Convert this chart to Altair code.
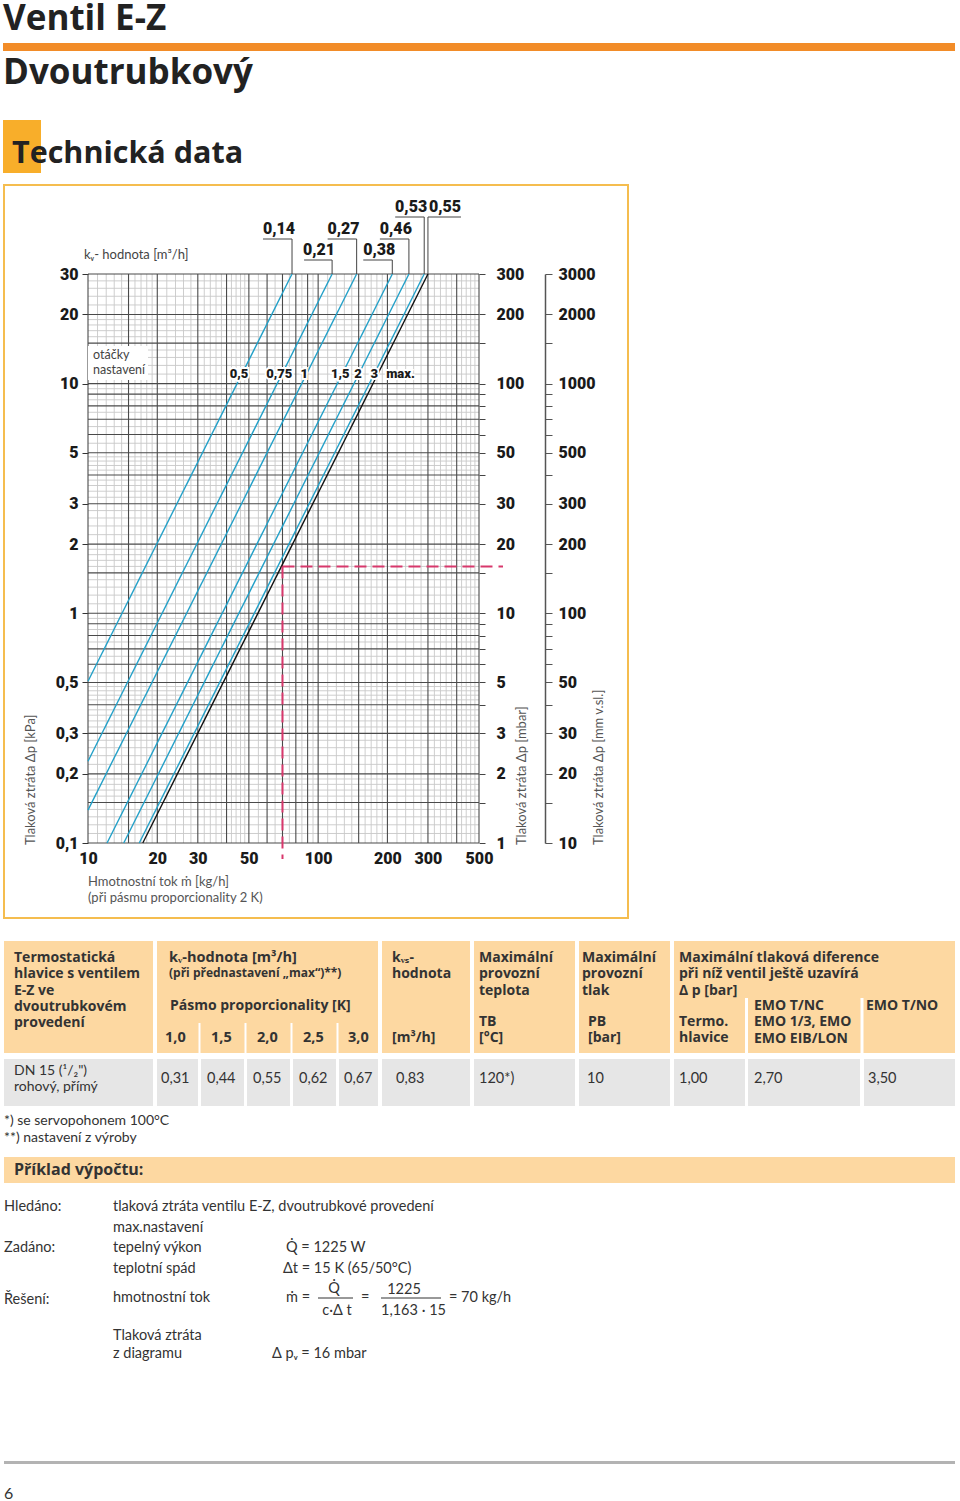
import altair as alt
import pandas as pd

# ---------------- data ----------------
kv_values = ["0,14", "0,21", "0,27", "0,38", "0,46", "0,53", "0,55"]
setting_names = ["0,5", "0,75", "1", "1,5", "2", "3", "max."]
flow_top = [77, 115, 147, 210, 248, 289, 300]        # kg/h where each line meets 30 kPa
flow_low = [10, 10, 10, 12.1, 14.3, 16.7, 17.3]      # kg/h at the lower end of each line
dp_low = [0.506, 0.227, 0.139, 0.1, 0.1, 0.1, 0.1]   # kPa at the lower end of each line
setting_flow = [45.3, 67.8, 87.1, 124.9, 148.9, 175.2, 228.0]

example_flow = [70]
example_dp = [1.6]

x_label_values = [10, 20, 30, 50, 100, 200, 300, 500]
y_label_values = [0.1, 0.2, 0.3, 0.5, 1, 2, 3, 5, 10, 20, 30]
major_mult = [1, 1.5, 2, 3, 4, 5, 6, 7, 8, 9]
minor_steps = [(1, 2, 0.1), (2, 5, 0.2), (5, 10, 0.5)]

hdr_col1 = ["Termostatická", "hlavice s ventilem", "E-Z ve", "dvoutrubkovém", "provedení"]
hdr_kv = "kᵥ-hodnota [m³/h]"
hdr_kv_sub = "(při přednastavení „max“)**)"
hdr_band = "Pásmo proporcionality [K]"
bands = ["1,0", "1,5", "2,0", "2,5", "3,0"]
hdr_kvs = ["kᵥₛ-", "hodnota"]
hdr_kvs_unit = "[m³/h]"
hdr_tb = ["Maximální", "provozní", "teplota"]
hdr_tb_unit = ["TB", "[°C]"]
hdr_pb = ["Maximální", "provozní", "tlak"]
hdr_pb_unit = ["PB", "[bar]"]
hdr_dp = ["Maximální tlaková diference", "při níž ventil ještě uzavírá", "Δ p [bar]"]
hdr_dp_sub1 = ["Termo.", "hlavice"]
hdr_dp_sub2 = ["EMO T/NC", "EMO 1/3, EMO", "EMO EIB/LON"]
hdr_dp_sub3 = ["EMO T/NO"]
row_name = ["DN 15 (¹/₂\")", "rohový, přímý"]
kv_by_band = ["0,31", "0,44", "0,55", "0,62", "0,67"]
kvs_value = "0,83"
tb_value = "120*)"
pb_value = "10"
dp_values = ["1,00", "2,70", "3,50"]

# ---------------- layout / style ----------------
W, H = 391, 569
X0, Y0 = 88, 274
BODY = "Lato"
BOLD = "Open Sans"
HEAVY = "Roboto"
TEAL = "#23a0c8"
RED = "#d8386c"
PEACH = "#fdd8a1"
GREY = "#e6e6e6"
TXT = "#333333"

xs = alt.Scale(type="log", domain=[10, 500], nice=False)
ys = alt.Scale(type="log", domain=[0.1, 30], nice=False)
one = pd.DataFrame({"a": [0]})
layers = []


def px(x):
    return x - X0


def py(y):
    return y - Y0


def rect(x1, y1, x2, y2, fill, stroke=None, sw=0, fo=1):
    kw = dict(fill=fill, fillOpacity=fo)
    if stroke:
        kw.update(stroke=stroke, strokeWidth=sw)
    layers.append(alt.Chart(one).mark_rect(**kw).encode(
        x=alt.value(px(x1)), x2=alt.value(px(x2)), y=alt.value(py(y1)), y2=alt.value(py(y2))))


def rule(x1, y1, x2, y2, color, w=1.0, dash=None):
    kw = dict(color=color, strokeWidth=w)
    if dash:
        kw["strokeDash"] = dash
    layers.append(alt.Chart(one).mark_rule(**kw).encode(
        x=alt.value(px(x1)), x2=alt.value(px(x2)), y=alt.value(py(y1)), y2=alt.value(py(y2))))


def text(x, y, s, size=14, weight="normal", color=TXT, align="left", font=None,
         angle=None, baseline="middle", lh=16.3):
    if font is None:
        font = BOLD if weight == "bold" else BODY
    lines = s if isinstance(s, list) else [s]
    for i, ln in enumerate(lines):
        kw = dict(text=ln, align=align, baseline=baseline, fontSize=size,
                  fontWeight=weight, color=color, font=font)
        if angle is not None:
            kw["angle"] = angle
        layers.append(alt.Chart(one).mark_text(**kw).encode(
            x=alt.value(px(x)), y=alt.value(py(y + i * lh))))


# ---------------- page header ----------------
text(3, 30, "Ventil E-Z", size=35, weight="bold", color="#222", baseline="alphabetic")
rect(3, 43, 955, 51, "#f28c28")
text(3, 84, "Dvoutrubkový", size=35, weight="bold", color="#222", baseline="alphabetic")
rect(3, 120, 41, 173, "#f8ae2a")
text(12, 163, "Technická data", size=30.5, weight="bold", color="#222", baseline="alphabetic")

# chart frame
rect(4, 185, 628, 918, "white", stroke="#f5bd4f", sw=2, fo=0)

# ---------------- grid ----------------
def major_vals(lo, hi):
    out = set()
    for e in range(-2, 4):
        for m in major_mult:
            v = round(m * 10 ** e, 6)
            if lo <= v <= hi:
                out.add(v)
    return sorted(out)


def minor_vals(lo, hi):
    maj = set(major_vals(lo, hi))
    out = set()
    for e in range(-2, 4):
        for a, b, s in minor_steps:
            n = int(round((b - a) / s))
            for j in range(1, n):
                v = round((a + j * s) * 10 ** e, 6)
                if lo < v < hi and v not in maj:
                    out.add(v)
    return sorted(out)


xmaj = pd.DataFrame({"v": major_vals(10, 500)})
xmin = pd.DataFrame({"v": minor_vals(10, 500)})
ymaj = pd.DataFrame({"v": major_vals(0.1, 30)})
ymin = pd.DataFrame({"v": minor_vals(0.1, 30)})

mbar_expr = ("indexof([0.1,0.2,0.3,0.5,1,2,3,5,10,20,30], datum.value) >= 0 ? "
             "format(datum.value*10, 'd') : ''")
mm_expr = ("indexof([0.1,0.2,0.3,0.5,1,2,3,5,10,20,30], datum.value) >= 0 ? "
           "format(datum.value*100, 'd') : ''")
lab_style = dict(labelFont=HEAVY, labelFontSize=16, labelFontWeight=900, labelColor="#1a1a1a",
                 labelOverlap=False, labelFlush=False, title=None, grid=False)

mbar_axis = alt.Axis(orient="right", values=major_vals(0.1, 30), labelExpr=mbar_expr, tickSize=6,
                     tickColor="#444", tickWidth=1, domain=False, labelPadding=11,
                     labelAlign="left", labelBaseline="middle", **lab_style)
mm_axis = alt.Axis(orient="right", offset=66, values=major_vals(0.1, 30), labelExpr=mm_expr,
                   tickSize=7, tickColor="#555", tickWidth=1, domain=True, domainColor="#555",
                   domainWidth=1.5, labelPadding=6, labelAlign="left", labelBaseline="middle",
                   **lab_style)

layers.append(alt.Chart(xmin).mark_rule(color="#c8c8c8", strokeWidth=0.9).encode(
    x=alt.X("v:Q", scale=xs, axis=None), y=alt.value(0), y2=alt.value(H)))
layers.append(alt.Chart(ymin).mark_rule(color="#c8c8c8", strokeWidth=0.9).encode(
    y=alt.Y("v:Q", scale=ys, axis=mm_axis), x=alt.value(0), x2=alt.value(W)))
layers.append(alt.Chart(xmaj).mark_rule(color="#4a4a4a", strokeWidth=1.1).encode(
    x=alt.X("v:Q", scale=xs, axis=None), y=alt.value(0), y2=alt.value(H)))
layers.append(alt.Chart(ymaj).mark_rule(color="#4a4a4a", strokeWidth=1.1).encode(
    y=alt.Y("v:Q", scale=ys, axis=mbar_axis), x=alt.value(0), x2=alt.value(W)))

# "otáčky nastavení" box
rect(88, 346, 148, 380, "white")
text(93, 355, ["otáčky", "nastavení"], size=12.5, color="#444", lh=15)
text(84, 255, "kᵥ- hodnota [m³/h]", size=13, color="#444")

# ---------------- curves ----------------
rows = []
for i, k in enumerate(kv_values):
    rows.append(dict(kv=k, flow=flow_low[i], dp=dp_low[i], o=0))
    rows.append(dict(kv=k, flow=flow_top[i], dp=30, o=1))

left_axis = alt.Axis(orient="left", values=y_label_values,
                     labelExpr="replace(format(datum.value, '~g'), '.', ',')",
                     tickSize=6, tickColor="#333", tickWidth=1, domain=False, labelPadding=4,
                     **lab_style)
x_axis = alt.Axis(orient="bottom", values=x_label_values, format="d", ticks=False, domain=False,
                  labelPadding=7, **lab_style)

layers.append(alt.Chart(pd.DataFrame(rows)).mark_line(strokeWidth=1.4).encode(
    x=alt.X("flow:Q", scale=xs, axis=x_axis),
    y=alt.Y("dp:Q", scale=ys, axis=left_axis),
    color=alt.Color("kv:N", scale=alt.Scale(domain=kv_values, range=[TEAL] * 6 + ["#111111"]),
                    legend=None),
    detail="kv:N",
    order="o:Q"))

# example (red dashed)
ex = pd.DataFrame({"f": example_flow, "d": example_dp})
layers.append(alt.Chart(ex).mark_rule(color=RED, strokeWidth=2, strokeDash=[12, 6]).encode(
    x=alt.X("f:Q", scale=xs, axis=None), y=alt.Y("d:Q", scale=ys, axis=None),
    y2=alt.value(py(859))))
layers.append(alt.Chart(ex).mark_rule(color=RED, strokeWidth=2, strokeDash=[12, 6]).encode(
    x=alt.X("f:Q", scale=xs, axis=None), x2=alt.value(px(503)),
    y=alt.Y("d:Q", scale=ys, axis=None)))

# kv labels at top with leader lines
label_y = [229, 250, 229, 250, 229, 207, 207]
under_y = [239, 260, 239, 260, 239, 217, 217]
label_side = [-1, -1, -1, -1, -1, -1, 1]
label_w = [29, 28, 29, 29, 29, 29, 33]
for i, k in enumerate(kv_values):
    d = pd.DataFrame({"f": [flow_top[i]],
                      "u": [flow_top[i] * 10 ** (label_side[i] * label_w[i] / 230.0)]})
    layers.append(alt.Chart(d).mark_rule(color="#444", strokeWidth=1).encode(
        x=alt.X("f:Q", scale=xs, axis=None), y=alt.value(py(under_y[i])), y2=alt.value(0)))
    layers.append(alt.Chart(d).mark_rule(color="#444", strokeWidth=1).encode(
        x=alt.X("f:Q", scale=xs, axis=None), x2=alt.X2("u"), y=alt.value(py(under_y[i]))))
    al = "right" if label_side[i] < 0 else "left"
    dx = 3 if label_side[i] < 0 else 1
    layers.append(alt.Chart(d).mark_text(text=k, align=al, baseline="middle", dx=dx, fontSize=16,
                                         font=HEAVY, fontWeight=900, color="#1a1a1a").encode(
        x=alt.X("f:Q", scale=xs, axis=None), y=alt.value(py(label_y[i]))))

# setting labels on the curves (white halo + text)
sd = pd.DataFrame({"f": setting_flow, "s": setting_names})
layers.append(alt.Chart(sd).mark_text(align="center", baseline="middle", fontSize=13, font=HEAVY,
                                      fontWeight=900, color="white", stroke="white",
                                      strokeWidth=4).encode(
    x=alt.X("f:Q", scale=xs, axis=None), y=alt.value(py(374)), text="s:N"))
layers.append(alt.Chart(sd).mark_text(align="center", baseline="middle", fontSize=13, font=HEAVY,
                                      fontWeight=900, color="#1a1a1a").encode(
    x=alt.X("f:Q", scale=xs, axis=None), y=alt.value(py(374)), text="s:N"))

# axis titles
text(31, 845, "Tlaková ztráta  Δp [kPa]", size=13, color="#555", angle=270)
text(522, 845, "Tlaková ztráta  Δp [mbar]", size=13, color="#555", angle=270)
text(599, 845, "Tlaková ztráta  Δp [mm v.sl.]", size=13, color="#555", angle=270)
text(88, 882, ["Hmotnostní tok ṁ [kg/h]", "(při pásmu proporcionality 2 K)"], size=13,
     color="#555", lh=16)

# ---------------- table ----------------
hdr_cols = [(4, 153), (157, 378), (382, 470), (474, 575), (579, 670), (674, 955)]
for a, b in hdr_cols:
    rect(a, 941, b, 1053, PEACH)
for xx in [199.5, 245.5, 291.5, 337.5]:
    rule(xx, 1023, xx, 1053, "white", 2)
for xx in [746.5, 862]:
    rule(xx, 998, xx, 1053, "white", 3)
row_cols = [(4, 153), (157, 198), (201, 244), (247, 290), (293, 336), (339, 378), (382, 470),
            (474, 575), (579, 670), (674, 745), (748, 860), (864, 955)]
for a, b in row_cols:
    rect(a, 1059, b, 1106, GREY)

HB = dict(size=14, weight="bold", color=TXT)
text(14, 958, hdr_col1, **HB)
text(169, 958, hdr_kv, size=14.5, weight="bold", color=TXT)
text(169, 973, hdr_kv_sub, size=12, weight="bold", color=TXT)
text(170, 1006, hdr_band, size=14, weight="bold", color=TXT)
for xx, s in zip([165, 211, 257, 303, 348], bands):
    text(xx, 1038, s, size=14.5, weight="bold", color=TXT)
text(392, 958, hdr_kvs, **HB)
text(392, 1038, hdr_kvs_unit, **HB)
text(479, 958, hdr_tb, **HB)
text(479, 1022, hdr_tb_unit, **HB)
text(582, 958, hdr_pb, **HB)
text(588, 1022, hdr_pb_unit, **HB)
text(679, 958, hdr_dp, **HB)
text(679, 1022, hdr_dp_sub1, **HB)
text(754, 1006, hdr_dp_sub2, **HB)
text(866, 1006, hdr_dp_sub3, **HB)

RB = dict(size=14.5, color=TXT)
text(14, 1071, row_name, size=14, color=TXT, lh=16)
for xx, s in zip([161, 207, 253, 299, 344], kv_by_band):
    text(xx, 1079, s, **RB)
text(396, 1079, kvs_value, **RB)
text(479, 1079, tb_value, **RB)
text(587, 1079, pb_value, **RB)
for xx, s in zip([679, 754, 868], dp_values):
    text(xx, 1079, s, **RB)

text(4, 1121, ["*)   se servopohonem 100°C", "**) nastavení z výroby"], size=14, color=TXT, lh=17)

# ---------------- example ----------------
rect(4, 1157, 955, 1183, PEACH)
text(14, 1170, "Příklad výpočtu:", size=16, weight="bold", color=TXT)
E = dict(size=14.5, color=TXT)
text(4, 1207, "Hledáno:", **E)
text(113, 1207, ["tlaková ztráta ventilu E-Z, dvoutrubkové provedení", "max.nastavení"], lh=20.5, **E)
text(4, 1248, "Zadáno:", **E)
text(113, 1248, ["tepelný výkon", "teplotní spád"], lh=21, **E)
text(286, 1248, "Q̇  =  1225 W", **E)
text(283, 1269, "Δt  =  15 K (65/50°C)", **E)
text(4, 1300, "Řešení:", **E)
text(113, 1298, "hmotnostní tok", **E)
text(286, 1298, "ṁ  =", **E)
text(334, 1289, "Q̇", align="center", **E)
rule(318, 1298, 353, 1298, TXT, 1)
text(337, 1311, "c·Δ t", align="center", **E)
text(361, 1298, "=", **E)
text(404, 1290, "1225", align="center", **E)
rule(381, 1298, 441, 1298, TXT, 1)
text(381, 1311, "1,163 · 15", **E)
text(449, 1298, "=  70  kg/h", **E)
text(113, 1336, ["Tlaková ztráta", "z diagramu"], lh=18, **E)
text(272, 1354, "Δ pᵥ  =  16  mbar", **E)

# footer
rect(4, 1461, 955, 1464, "#b3b3b3")
text(4, 1494, "6", size=16, color=TXT)

chart = alt.layer(*layers).resolve_axis(x="independent", y="independent").properties(
    width=W, height=H,
    padding={"left": X0, "top": Y0, "right": 960 - X0 - W, "bottom": 1501 - Y0 - H},
    autosize=alt.AutoSizeParams(type="none"),
    background="white",
).configure_view(stroke=None)

chart.save("out.html", embed_options={"renderer": "svg", "actions": False})
